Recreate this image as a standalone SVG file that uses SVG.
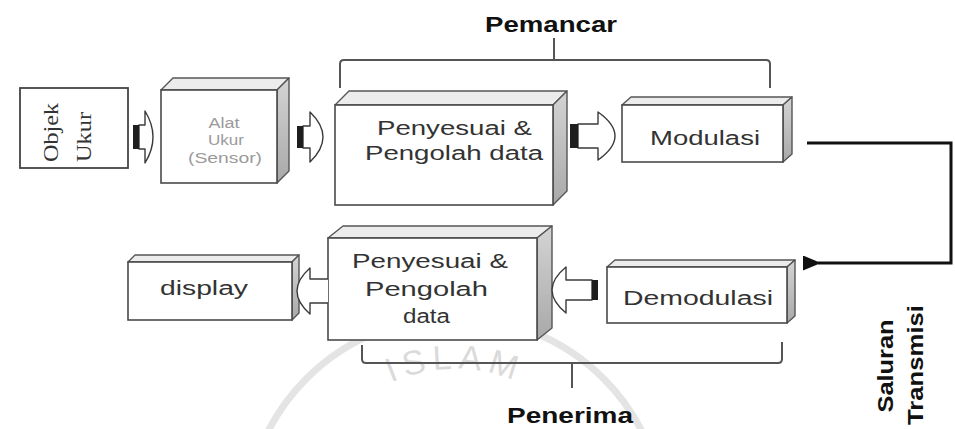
<svg xmlns="http://www.w3.org/2000/svg" width="955" height="429" viewBox="0 0 955 429">
<style>
  .front { fill: #ffffff; stroke: #4a4a4a; stroke-width: 1.6; }
  .top { fill: #ececec; stroke: #555; stroke-width: 1.4; stroke-linejoin: round; }
  .side { fill: url(#sideGrad); stroke: #555; stroke-width: 1.4; stroke-linejoin: round; }
  .lbl { font-family: "Liberation Sans", Arial, sans-serif; font-size: 20px; fill: #333; }
  .bold { font-family: "Liberation Sans", Arial, sans-serif; font-size: 22px; font-weight: bold; fill: #111; }
  .serif { font-family: "Liberation Serif", "Times New Roman", serif; font-size: 22px; fill: #333; }
  .faint { font-family: "Liberation Sans", Arial, sans-serif; font-size: 14px; fill: #9a9a9a; }
  .arrow { fill: #ffffff; stroke: #3a3a3a; stroke-width: 1.4; stroke-linejoin: round; }
  .stripe { fill: #1e1e1e; }
  .brace { fill: none; stroke: #555; stroke-width: 2; }
  .link { fill: none; stroke: #111; stroke-width: 3; }
</style>
<defs>
  <linearGradient id="sideGrad" x1="0" y1="0" x2="0" y2="1">
    <stop offset="0" stop-color="#d4d4d4"/>
    <stop offset="1" stop-color="#a8a8a8"/>
  </linearGradient>
  <marker id="head" markerWidth="6" markerHeight="5" refX="1" refY="2.5" orient="auto" markerUnits="strokeWidth">
    <path d="M6,0 L0,2.5 L6,5 Z" fill="#111"/>
  </marker>
</defs>
<rect width="955" height="429" fill="#ffffff"/>

<!-- watermark -->
<g id="watermark" opacity="0.55">
  <circle cx="455" cy="527" r="210" fill="none" stroke="#cfcfcf" stroke-width="7"/>
  <path id="wmArc" d="M297,527 A158,158 0 0 1 613,527" fill="none"/>
  <text font-family="Liberation Sans, Arial, sans-serif" font-size="34" fill="#bdbdbd" letter-spacing="6">
    <textPath href="#wmArc" startOffset="50%" text-anchor="middle">ISLAM</textPath>
  </text>
</g>

<!-- braces -->
<g id="brace-pemancar">
  <path class="brace" d="M340,88 L340,64 Q340,60 344,60 L766,60 Q770,60 770,64 L770,88 M554,60 L554,38"/>
  <text class="bold" x="485" y="32" textLength="132" lengthAdjust="spacingAndGlyphs">Pemancar</text>
</g>
<g id="brace-penerima">
  <path class="brace" d="M362,345 L362,359 Q362,363 366,363 L778,363 Q782,363 782,359 L782,342 M572,363 L572,388"/>
  <text class="bold" x="507" y="423" textLength="126" lengthAdjust="spacingAndGlyphs">Penerima</text>
</g>

<!-- nodes -->
<g id="objek-ukur">
  <rect x="20" y="88" width="108" height="80" fill="#fff" stroke="#444" stroke-width="1.8"/>
  <text class="serif" transform="translate(58,162) rotate(-90)" textLength="59" lengthAdjust="spacingAndGlyphs">Objek</text>
  <text class="serif" transform="translate(91,162) rotate(-90)" textLength="50" lengthAdjust="spacingAndGlyphs">Ukur</text>
</g>

<g id="alat-ukur">
  <polygon class="top" points="161,90 173,78 289,78 277,90"/>
  <polygon class="side" points="277,90 289,78 289,171 277,183"/>
  <rect class="front" x="161" y="90" width="116" height="93"/>
  <text class="faint" x="224" y="128" text-anchor="middle" textLength="31" lengthAdjust="spacingAndGlyphs">Alat</text>
  <text class="faint" x="226" y="145" text-anchor="middle" textLength="36" lengthAdjust="spacingAndGlyphs">Ukur</text>
  <text class="faint" x="225" y="163" text-anchor="middle" textLength="74" lengthAdjust="spacingAndGlyphs">(Sensor)</text>
</g>

<g id="penyesuai-pemancar">
  <polygon class="top" points="335,105 349,91 567,91 553,105"/>
  <polygon class="side" points="553,105 567,91 567,191 553,205"/>
  <rect class="front" x="335" y="105" width="218" height="100"/>
  <text class="lbl" x="377" y="135" textLength="155" lengthAdjust="spacingAndGlyphs">Penyesuai &amp;</text>
  <text class="lbl" x="365" y="160" textLength="178" lengthAdjust="spacingAndGlyphs">Pengolah data</text>
</g>

<g id="modulasi">
  <polygon class="top" points="622,105 631,97 792,97 783,105"/>
  <polygon class="side" points="783,105 792,97 792,154 783,162"/>
  <rect class="front" x="622" y="105" width="161" height="57"/>
  <text class="lbl" x="650" y="145" textLength="110" lengthAdjust="spacingAndGlyphs">Modulasi</text>
</g>

<g id="demodulasi">
  <polygon class="top" points="607,267 615,260 795,260 787,267"/>
  <polygon class="side" points="787,267 795,260 795,316 787,323"/>
  <rect class="front" x="607" y="267" width="180" height="56"/>
  <text class="lbl" x="623" y="305" textLength="150" lengthAdjust="spacingAndGlyphs">Demodulasi</text>
</g>

<g id="penyesuai-penerima">
  <polygon class="top" points="328,238 343,226 552,226 537,238"/>
  <polygon class="side" points="537,238 552,226 552,328 537,340"/>
  <rect class="front" x="328" y="238" width="209" height="102"/>
  <text class="lbl" x="352" y="268" textLength="156" lengthAdjust="spacingAndGlyphs">Penyesuai &amp;</text>
  <text class="lbl" x="365" y="296" textLength="123" lengthAdjust="spacingAndGlyphs">Pengolah</text>
  <text class="lbl" x="403" y="323" textLength="47" lengthAdjust="spacingAndGlyphs">data</text>
</g>

<g id="display">
  <polygon class="top" points="128,262 135,255 299,255 292,262"/>
  <polygon class="side" points="292,262 299,255 299,313 292,320"/>
  <rect class="front" x="128" y="262" width="164" height="58"/>
  <text class="lbl" x="160" y="295" textLength="88" lengthAdjust="spacingAndGlyphs">display</text>
</g>

<g id="saluran-transmisi">
  <text class="bold" transform="translate(893,366) rotate(-90)" text-anchor="middle" textLength="93" lengthAdjust="spacingAndGlyphs">Saluran</text>
  <text class="bold" transform="translate(923,365) rotate(-90)" text-anchor="middle" textLength="120" lengthAdjust="spacingAndGlyphs">Transmisi</text>
</g>

<!-- connectors -->
<g id="connectors">
  <path class="arrow" d="M139,125 L145,125 L145,111 Q161,137 145,163 L145,149 L139,149 Z"/>
  <rect class="stripe" x="133" y="125" width="6" height="24"/>
  <path class="arrow" d="M303,126 L310,126 L310,112 Q336,137 310,162 L310,148 L303,148 Z"/>
  <rect class="stripe" x="297" y="126" width="6" height="22"/>
  <path class="arrow" d="M578,124 L598,124 L598,112 Q632,136 598,160 L598,148 L578,148 Z"/>
  <rect class="stripe" x="570" y="124" width="8" height="24"/>
  <polyline class="link" points="807,143 951,143 951,263 818,263" marker-end="url(#head)"/>
  <path class="arrow" d="M592,280 L566,280 L566,267 Q538,290 566,313 L566,300 L592,300 Z"/>
  <rect class="stripe" x="592" y="280" width="6" height="20"/>
  <path class="arrow" d="M328,279 L310,279 L310,268 Q284,291 310,314 L310,303 L328,303"/>
</g>
</svg>
